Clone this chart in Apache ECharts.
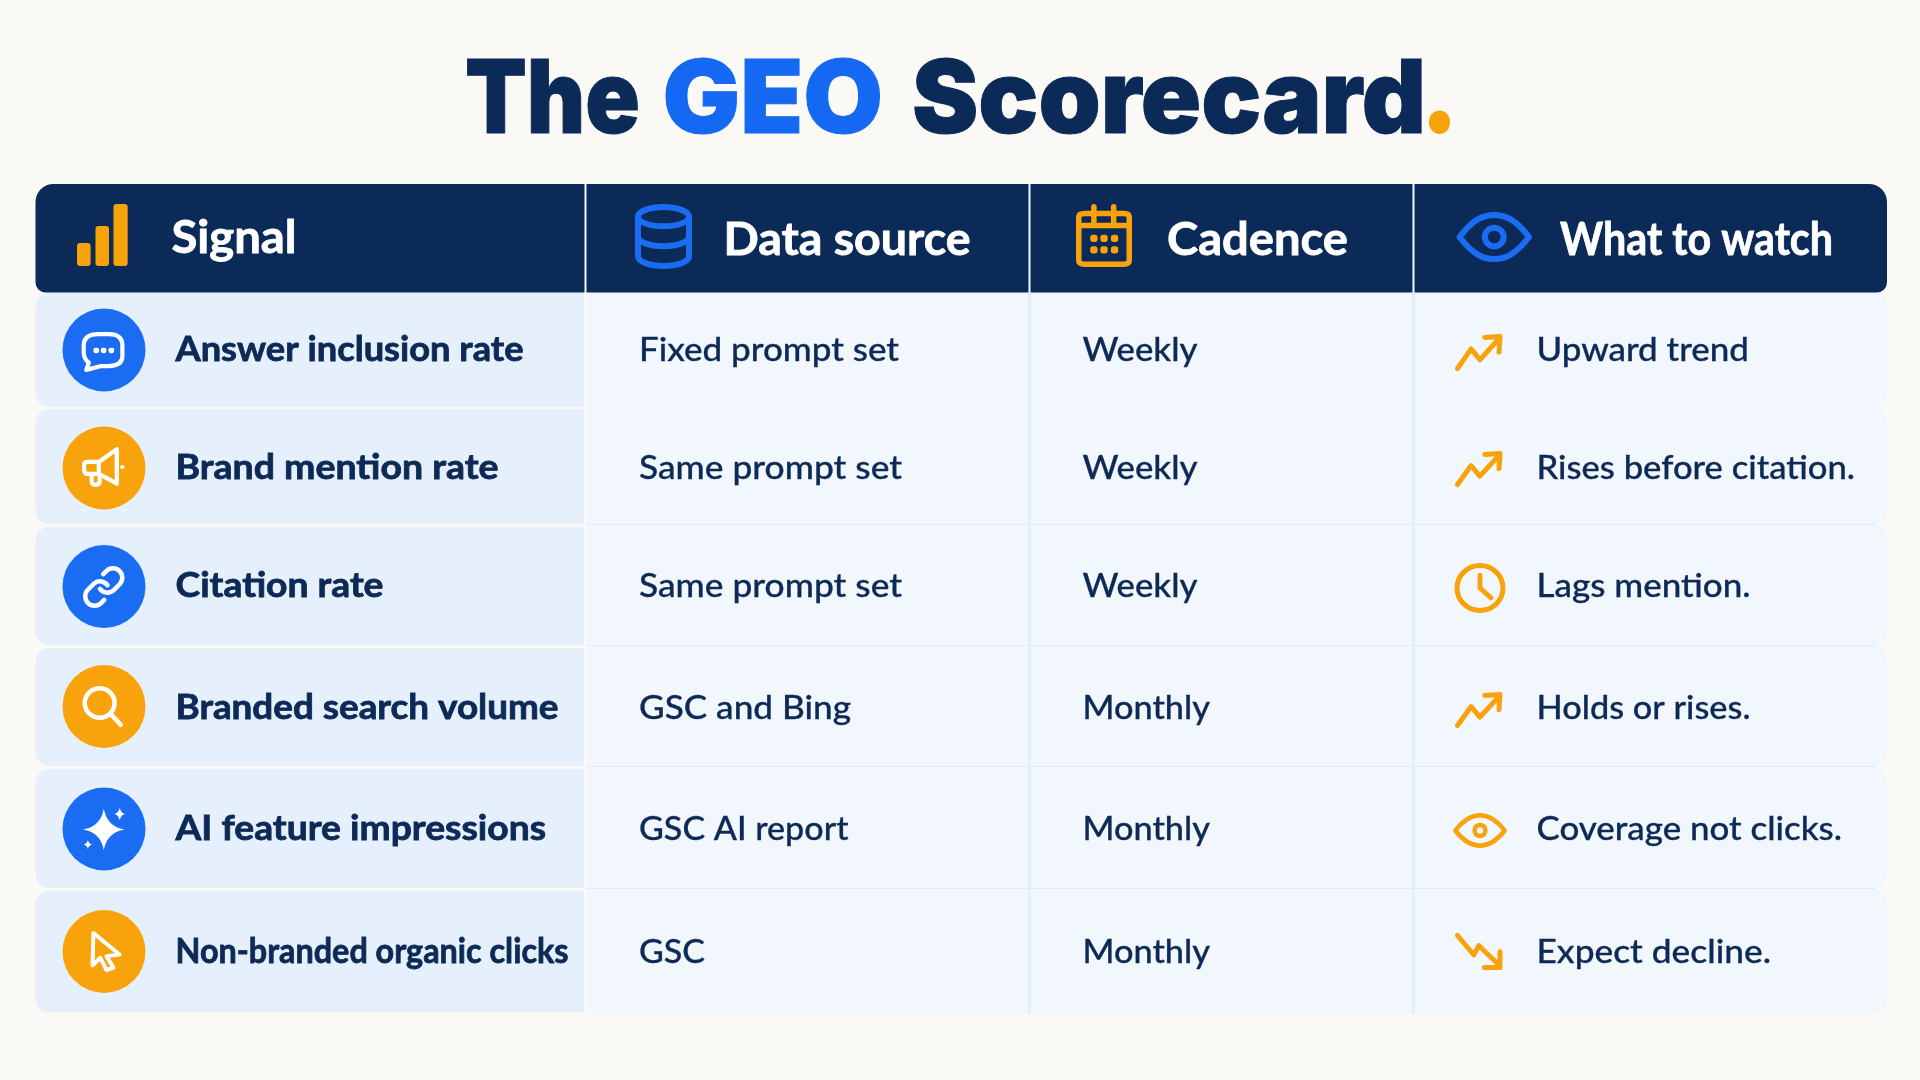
<!DOCTYPE html>
<html>
<head>
<meta charset="utf-8">
<title>The GEO Scorecard</title>
<script src="https://cdn.jsdelivr.net/npm/echarts@6/dist/echarts.min.js"></script>
<style>
	html, body { margin: 0; padding: 0; background: #FAF9F6; }
	#chart { width: 1920px; height: 1080px; }
</style>
</head>
<body>
<div id="chart"></div>
<script>
// table content
var titleParts = ['The', 'GEO', 'Scorecard', '.'];
var headers = ['Signal', 'Data source', 'Cadence', 'What to watch'];
var signals = ['Answer inclusion rate', 'Brand mention rate', 'Citation rate', 'Branded search volume', 'AI feature impressions', 'Non-branded organic clicks'];
var dataSources = ['Fixed prompt set', 'Same prompt set', 'Same prompt set', 'GSC and Bing', 'GSC AI report', 'GSC'];
var cadences = ['Weekly', 'Weekly', 'Weekly', 'Monthly', 'Monthly', 'Monthly'];
var watches = ['Upward trend', 'Rises before citation.', 'Lags mention.', 'Holds or rises.', 'Coverage not clicks.', 'Expect decline.'];

// layout, in axis units (axes run 0-1920 and 0-1080)
var colEdges = [35.5, 585, 1029, 1413, 1887];
var rowTops = [293, 409, 527, 648, 769, 891];
var rowBottoms = [407, 524, 645, 766, 888, 1012.5];
var circleY = [350, 468, 586.5, 706.5, 829, 951.5];
var baseY = [361, 479, 597, 719, 840, 963];
var colTextX = [175.5, 639, 1082.5, 1536.5];
var headerTextX = [171.5, 723.5, 1167, 1560];
var headerBaseY = [252.5, 254, 254, 254];
var headerTextW = [125, 247, 181, 273];
var titleX = [465, 662.5, 912, 1420];
var titleW = [175, 220.5, 514, 39];
var signalW = [348, 323, 208, 383, 370.5, 393];
var sourceW = [260, 263, 263, 212, 209.5, 66];
var cadenceW = [115, 115, 115, 127.5, 127.5, 127.5];
var watchW = [212.5, 318.5, 214, 214, 305.5, 234.5];

var NAVY = '#0B2A57', BLUE = '#1A6DF3', ORANGE = '#F9A30C', INK = '#0C2A55';
var FONT = 'Lato';

var paths = {
	chat: 'M240 518H268Q305 518 305 555V590Q305 620 268 622H245L207 634L214 610Q200 600 200 575V555Q200 518 240 518Z M232 569h4v4h-4z M252 569h4v4h-4z M273 569h4v4h-4z',
	megaphone: 'M285 862L240 905H212Q203 905 203 915V930Q203 945 212 945H240L285 978Z M222 945V970Q222 982 232 982Q242 982 242 970V948 M240 905V945 M299 922h.1',
	link: 'M10 13a5 5 0 0 0 7.54.54l3-3a5 5 0 0 0-7.07-7.07l-1.72 1.71 M14 11a5 5 0 0 0-7.54-.54l-3 3a5 5 0 0 0 7.07 7.07l1.71-1.71',
	search: 'M2 19A17 17 0 1 1 36 19A17 17 0 1 1 2 19Z M31 31L43 44',
	sparkle: 'M254 865Q262 915 305 923Q262 931 254 980Q246 931 203 923Q246 915 254 865Z M293 863Q296 877 306 880Q296 883 293 897Q290 883 280 880Q290 877 293 863Z M215 953Q217 963 226 965Q217 967 215 977Q213 967 204 965Q213 963 215 953Z',
	cursor: 'M228 1210L296 1275L262 1280L280 1315L262 1322L246 1285L226 1308Z',
	database: 'M3 5A9 3.4 0 1 1 21 5A9 3.4 0 1 1 3 5Z M3 5V19A9 3.4 0 0 0 21 19V5 M3 12A9 3.4 0 0 0 21 12',
	calendar: 'M985 125H1070Q1082 125 1082 137V280Q1082 292 1070 292H985Q972 292 972 280V137Q972 125 985 125Z M972 165H1082 M1005 103V155 M1048 103V155 M1003 204h4v6h-4z M1025 204h4v6h-4z M1048 204h4v6h-4z M1003 242h4v6h-4z M1025 242h4v6h-4z M1048 242h4v6h-4z',
	eye: 'M2 12C6 5 9 3.5 12 3.5C15 3.5 18 5 22 12C18 19 15 20.5 12 20.5C9 20.5 6 19 2 12Z M14.7 12A2.7 3.6 0 1 1 9.3 12A2.7 3.6 0 1 1 14.7 12Z',
	eyeSmall: 'M2 12C6 5 9 3.5 12 3.5C15 3.5 18 5 22 12C18 19 15 20.5 12 20.5C9 20.5 6 19 2 12Z M14.2 12A2.2 3 0 1 1 9.8 12A2.2 3 0 1 1 14.2 12Z',
	up: 'M221 628L263 565L290 600L350 530 M305 528L352 525L349 575',
	down: 'M220 1183L270 1245L285 1215L350 1280 M350 1235V1285H302',
	clock: 'M2 25A23 23 0 1 1 48 25A23 23 0 1 1 2 25Z M25 12V25L36 35'
};

// outer box of every icon: x0, y0, x1, y1
var signalIcons = [
	{ d: 'chat', box: [81.6, 332, 124.5, 372], lw: 4.2 },
	{ d: 'megaphone', box: [82, 447, 124.5, 487], lw: 4.2 },
	{ d: 'link', box: [83, 566, 124.5, 608], lw: 4.5 },
	{ d: 'search', box: [82.5, 686, 123, 727], lw: 4.5 },
	{ d: 'sparkle', box: [83, 808, 125, 850], fill: true },
	{ d: 'cursor', box: [90.6, 931, 121.6, 972], lw: 4 }
];
var watchIcons = [
	{ d: 'up', box: [1455, 334, 1502.5, 371], lw: 5 },
	{ d: 'up', box: [1455, 451, 1502.5, 487], lw: 5 },
	{ d: 'clock', box: [1454.5, 563, 1505.5, 613], lw: 5 },
	{ d: 'up', box: [1455, 692, 1502.5, 728], lw: 5 },
	{ d: 'eyeSmall', box: [1453, 813, 1507, 848], lw: 4.5 },
	{ d: 'down', box: [1455, 933, 1502.5, 970], lw: 5 }
];
var headerIcons = [
	null,
	{ d: 'database', box: [635, 204, 692, 269], lw: 6, color: BLUE },
	{ d: 'calendar', box: [1076, 204, 1132, 267], lw: 5.5, color: ORANGE },
	{ d: 'eye', box: [1456.5, 212, 1532, 262], lw: 6, color: BLUE }
];
var barIcon = [[77, 243, 90.6], [95.5, 226, 109], [113.5, 204, 127.7]];

var measureCtx = document.createElement('canvas').getContext('2d');
function fitScale(text, font, width) {
	measureCtx.font = font;
	return width / measureCtx.measureText(text).width;
}

function pt(api, x, y) {
	return api.coord([x, y]);
}

function rectEl(api, x0, y0, x1, y1, r, fill) {
	var a = pt(api, x0, y0), b = pt(api, x1, y1);
	return {
		type: 'rect',
		shape: { x: a[0], y: a[1], width: b[0] - a[0], height: b[1] - a[1], r: r },
		style: { fill: fill }
	};
}

function lineEl(api, x0, y0, x1, y1, color, lw) {
	var a = pt(api, x0, y0), b = pt(api, x1, y1);
	return {
		type: 'line',
		shape: { x1: a[0], y1: a[1], x2: b[0], y2: b[1] },
		style: { stroke: color, lineWidth: lw }
	};
}

function iconEl(api, icon, color) {
	var b = icon.box, inset = icon.fill ? 0 : icon.lw / 2;
	var a = pt(api, b[0] + inset, b[1] + inset), c = pt(api, b[2] - inset, b[3] - inset);
	return {
		type: 'path',
		shape: { pathData: paths[icon.d], layout: 'cover', x: a[0], y: a[1], width: c[0] - a[0], height: c[1] - a[1] },
		style: icon.fill ? { fill: color } : { fill: null, stroke: color, lineWidth: icon.lw, lineCap: 'round', lineJoin: 'round' }
	};
}

// text with its baseline at y, squeezed to the width it has in the picture
function textEl(api, text, x, y, width, size, weight, color, family, border) {
	var font = weight + ' ' + size + 'px ' + (family || FONT);
	var p = pt(api, x, y - size * 0.31);
	var style = { text: text, font: font, fill: color, align: 'left', verticalAlign: 'middle' };
	if (border) {
		style.stroke = color;
		style.lineWidth = border;
	}
	return {
		type: 'text',
		x: p[0],
		y: p[1],
		scaleX: fitScale(text, font, width),
		style: style
	};
}

function renderTitle(params, api) {
	var i = api.value(0);
	var colors = [NAVY, '#1468F2', NAVY, ORANGE];
	var size = i === 3 ? 118 : 102;
	return textEl(api, titleParts[i], titleX[i], 134, titleW[i], size, 900, colors[i], 'Inter', i === 3 ? 0 : 1);
}

function renderHeader(params, api) {
	var i = api.value(0);
	var children = [];
	if (i === 0) {
		children.push(rectEl(api, colEdges[0], 184, colEdges[4], 292.5, [18, 18, 10, 10], NAVY));
		for (var k = 1; k < 4; k++) {
			children.push(lineEl(api, colEdges[k] + 0.5, 184, colEdges[k] + 0.5, 293, '#F4F7FC', 2));
		}
		barIcon.forEach(function (b) {
			children.push(rectEl(api, b[0], b[1], b[2], 266, 3, ORANGE));
		});
	}
	if (headerIcons[i]) {
		children.push(iconEl(api, headerIcons[i], headerIcons[i].color));
	}
	children.push(textEl(api, headers[i], headerTextX[i], headerBaseY[i], headerTextW[i], 46, 700, '#FFFFFF', null, 0.8));
	return { type: 'group', children: children };
}

function renderRow(params, api) {
	var i = api.value(0);
	var top = rowTops[i], bottom = rowBottoms[i];
	var children = [];
	var circleColor = i % 2 === 0 ? BLUE : ORANGE;
	children.push(rectEl(api, colEdges[0], top, colEdges[1] - 1, bottom, [14, 0, 0, 14], '#E6F0FC'));
	children.push(rectEl(api, colEdges[1] + 1.5, top - 2, colEdges[4], bottom + 1, [0, 14, 14, 0], '#F2F6FD'));
	children.push(lineEl(api, colEdges[2] + 0.5, top - 2, colEdges[2] + 0.5, bottom + 1, '#DDE8FA', 2));
	children.push(lineEl(api, colEdges[3] + 0.5, top - 2, colEdges[3] + 0.5, bottom + 1, '#DDE8FA', 2));
	if (i < rowTops.length - 1) {
		children.push(lineEl(api, colEdges[1] + 1.5, bottom + 1, 1876, bottom + 1, '#E1EBFB', 2));
	}
	var c = pt(api, 104, circleY[i]);
	children.push({
		type: 'circle',
		shape: { cx: c[0], cy: c[1], r: 41.5 },
		style: { fill: circleColor }
	});
	children.push(iconEl(api, signalIcons[i], '#FFFFFF'));
	children.push(iconEl(api, watchIcons[i], ORANGE));
	children.push(textEl(api, signals[i], colTextX[0], baseY[i], signalW[i], 35, 700, INK, null, 0.8));
	children.push(textEl(api, dataSources[i], colTextX[1], baseY[i], sourceW[i], 33, 500, INK, null, 0.3));
	children.push(textEl(api, cadences[i], colTextX[2], baseY[i], cadenceW[i], 33, 500, INK, null, 0.3));
	children.push(textEl(api, watches[i], colTextX[3], baseY[i], watchW[i], 33, 500, INK, null, 0.3));
	return { type: 'group', children: children };
}

var chart = echarts.init(document.getElementById('chart'));
var option = {
	backgroundColor: '#FAF9F6',
	animation: false,
	grid: { left: 0, right: 0, top: 0, bottom: 0 },
	xAxis: { type: 'value', min: 0, max: 1920, show: false },
	yAxis: { type: 'value', min: 0, max: 1080, inverse: true, show: false },
	series: [{
		type: 'custom',
		name: 'title',
		silent: true,
		clip: false,
		renderItem: renderTitle,
		data: titleParts.map(function (t, i) { return [i, i]; })
	}, {
		type: 'custom',
		name: 'rows',
		silent: true,
		clip: false,
		renderItem: renderRow,
		data: signals.map(function (s, i) { return [i, i]; })
	}, {
		type: 'custom',
		name: 'header',
		silent: true,
		clip: false,
		renderItem: renderHeader,
		data: headers.map(function (h, i) { return [i, i]; })
	}]
};
chart.setOption(option);
</script>
</body>
</html>
